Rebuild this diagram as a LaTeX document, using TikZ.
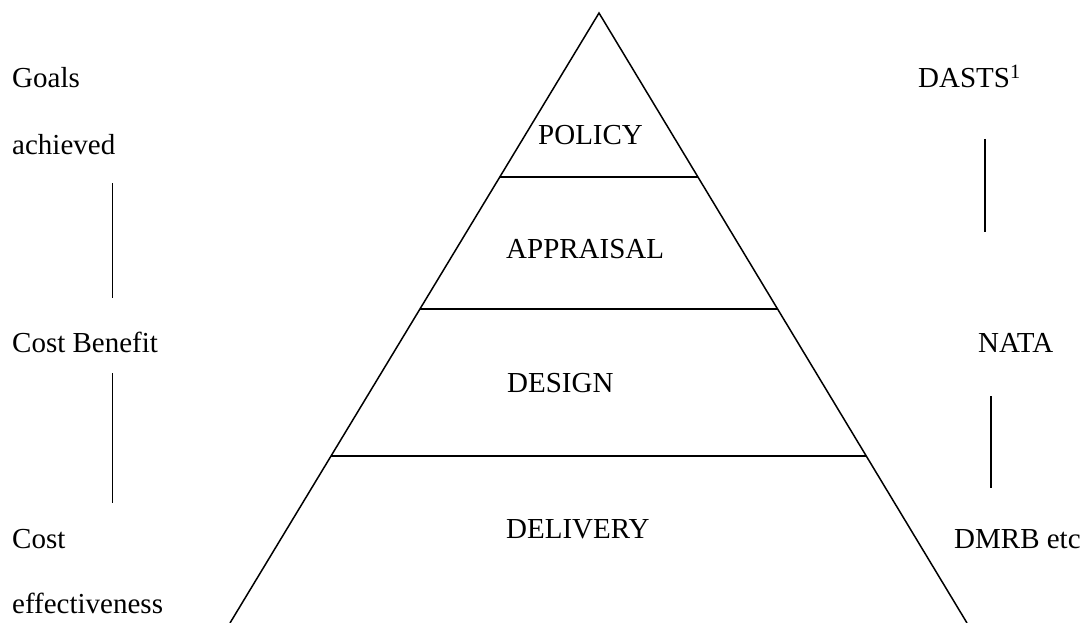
\documentclass[tikz,border=0pt]{standalone}
\usepackage{fontspec}
\setmainfont{Liberation Serif}
\usetikzlibrary{calc}
\begin{document}
\begin{tikzpicture}[x=1pt,y=-1pt,
  lbl/.style={anchor=base west,inner sep=0pt,font=\fontsize{29}{34}\selectfont},
  ln/.style={line width=1.5pt,line cap=butt}]
\useasboundingbox (0,0) rectangle (1081,623);
% triangle
\coordinate (apex) at (599,13);
\coordinate (bl) at (230,623);
\coordinate (br) at (967,623);
\draw[ln,line join=miter] (bl) -- (apex) -- (br);
% horizontal dividers
\coordinate (h1l) at ($(apex)!164/610!(bl)$);
\coordinate (h1r) at ($(apex)!164/610!(br)$);
\coordinate (h2l) at ($(apex)!296/610!(bl)$);
\coordinate (h2r) at ($(apex)!296/610!(br)$);
\coordinate (h3l) at ($(apex)!443/610!(bl)$);
\coordinate (h3r) at ($(apex)!443/610!(br)$);
\draw[ln] (h1l) -- (h1r);
\draw[ln] (h2l) -- (h2r);
\draw[ln] (h3l) -- (h3r);
% level labels
\node[lbl] (policy) at (538,144) {POLICY};
\node[lbl] (appraisal) at (506,258) {APPRAISAL};
\node[lbl] (design) at (507,392) {DESIGN};
\node[lbl] (delivery) at (506,538) {DELIVERY};
% left labels
\node[lbl] (goals) at (12,88) {Goals};
\node[lbl] (achieved) at (12,154) {achieved};
\node[lbl] (cb) at (12,352) {Cost Benefit};
\node[lbl] (cost) at (12,548) {Cost};
\node[lbl] (eff) at (12,613) {effectiveness};
% right labels
\node[lbl] (dasts) at (918,88) {DASTS\textsuperscript{1}};
\node[lbl] (nata) at (978,352) {NATA};
\node[lbl] (dmrb) at (954,548) {DMRB etc};
% left connectors
\coordinate (l1a) at (112.5,183);
\coordinate (l1b) at (112.5,298);
\coordinate (l2a) at (112.5,373);
\coordinate (l2b) at (112.5,503);
\draw[ln] (l1a) -- (l1b);
\draw[ln] (l2a) -- (l2b);
% right connectors
\coordinate (r1a) at (985,139);
\coordinate (r1b) at (985,232);
\coordinate (r2a) at (991,396);
\coordinate (r2b) at (991,488);
\draw[ln] (r1a) -- (r1b);
\draw[ln] (r2a) -- (r2b);
\end{tikzpicture}
\end{document}
